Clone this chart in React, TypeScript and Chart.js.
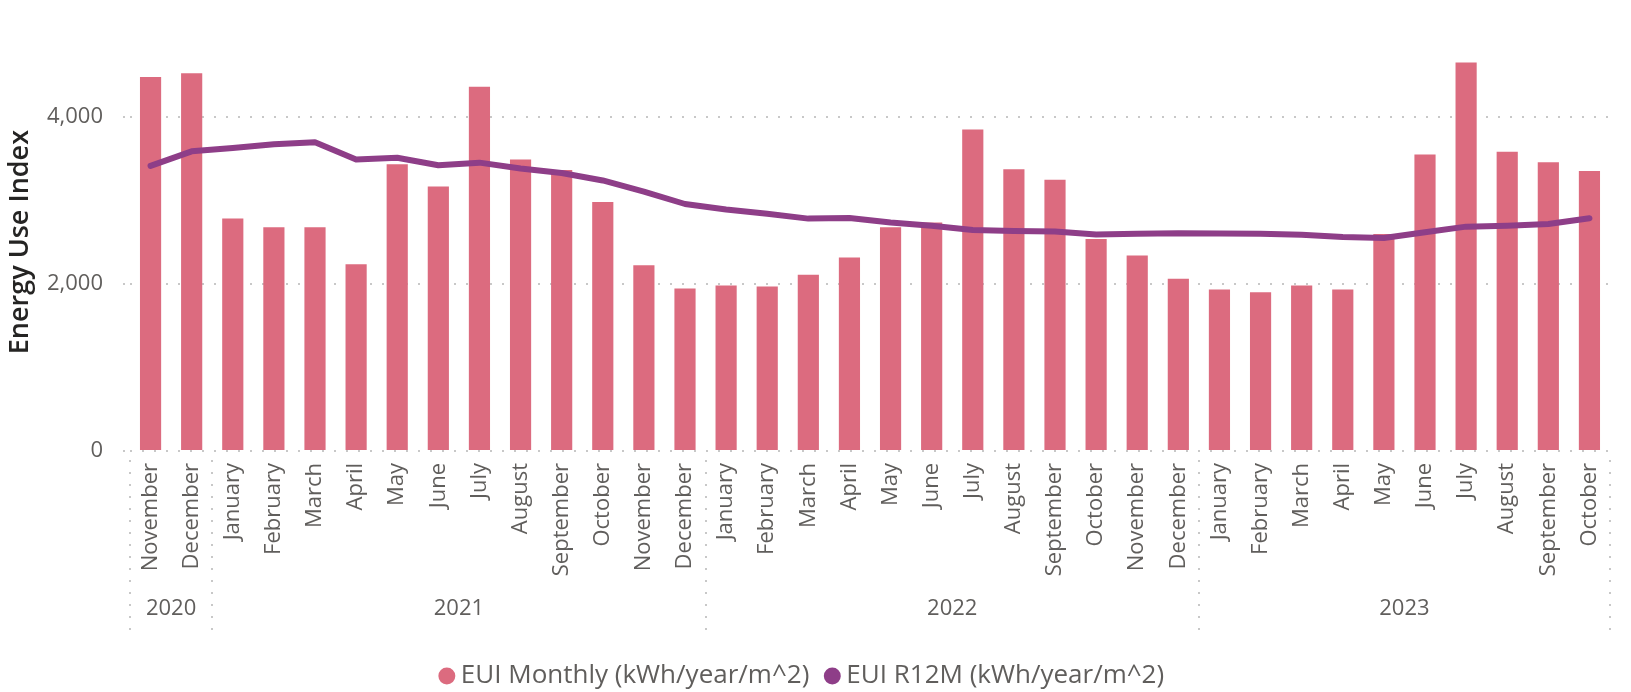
import React, { useEffect, useRef } from 'react';
import { Chart, registerables } from 'chart.js';

Chart.register(...registerables);

// ---- Data ----
const months = [
  'November', 'December',
  'January', 'February', 'March', 'April', 'May', 'June', 'July', 'August', 'September', 'October', 'November', 'December',
  'January', 'February', 'March', 'April', 'May', 'June', 'July', 'August', 'September', 'October', 'November', 'December',
  'January', 'February', 'March', 'April', 'May', 'June', 'July', 'August', 'September', 'October',
];
const years = [
  '2020', '2020',
  '2021', '2021', '2021', '2021', '2021', '2021', '2021', '2021', '2021', '2021', '2021', '2021',
  '2022', '2022', '2022', '2022', '2022', '2022', '2022', '2022', '2022', '2022', '2022', '2022',
  '2023', '2023', '2023', '2023', '2023', '2023', '2023', '2023', '2023', '2023',
];
const euiMonthly = [
  4476, 4522,
  2781, 2677, 2677, 2236, 3431, 3164, 4360, 3489, 3362, 2979, 2224, 1946,
  1981, 1969, 2108, 2317, 2677, 2735, 3849, 3373, 3246, 2538, 2340, 2062,
  1934, 1899, 1981, 1934, 2596, 3547, 4650, 3582, 3455, 3350,
];
const euiR12M = [
  3412, 3586,
  3625, 3671, 3694, 3489, 3509, 3420, 3451, 3381, 3327, 3238, 3105, 2956,
  2890, 2840, 2781, 2789, 2735, 2696, 2646, 2634, 2627, 2592, 2600, 2607,
  2603, 2600, 2588, 2561, 2549, 2619, 2685, 2696, 2716, 2785,
];
const yTickValues = [0, 2000, 4000];
const seriesNames = ['EUI Monthly (kWh/year/m^2)', 'EUI R12M (kWh/year/m^2)'];
const yAxisTitle = 'Energy Use Index';

const FONT = "'Open Sans', 'Segoe UI', sans-serif";
const TEXT_GRAY = '#605E5C';
const GRID = '#c8c8c8';
const BAR_COLOR = '#DC6B7F';
const LINE_COLOR = '#8E3E88';

const yearGroupsPlugin = {
  id: 'yearGroups',
  afterDraw(chart: any) {
    const xs = chart.scales.x;
    const area = chart.chartArea;
    const ctx = chart.ctx;
    const n = years.length;
    const step = (area.right - area.left) / n;
    const groups: { label: string; start: number; end: number }[] = [];
    let s = 0;
    for (let i = 1; i <= n; i++) {
      if (i === n || years[i] !== years[s]) {
        groups.push({ label: years[s], start: s, end: i - 1 });
        s = i;
      }
    }
    ctx.save();
    ctx.strokeStyle = GRID;
    ctx.lineWidth = 2;
    ctx.setLineDash([2, 10]);
    const top = area.bottom + 9;
    const bottom = area.bottom + 180;
    const edges: number[] = [];
    groups.forEach((g, gi) => {
      const l = xs.getPixelForValue(g.start) - step / 2;
      const r = xs.getPixelForValue(g.end) + step / 2;
      if (gi === 0) edges.push(l);
      edges.push(r);
    });
    edges.forEach((ex) => {
      const xx = Math.round(ex);
      ctx.beginPath();
      ctx.moveTo(xx, top);
      ctx.lineTo(xx, bottom);
      ctx.stroke();
    });
    ctx.setLineDash([]);
    ctx.fillStyle = TEXT_GRAY;
    ctx.font = `22px ${FONT}`;
    ctx.textAlign = 'center';
    ctx.textBaseline = 'middle';
    groups.forEach((g) => {
      const l = xs.getPixelForValue(g.start) - step / 2;
      const r = xs.getPixelForValue(g.end) + step / 2;
      ctx.fillText(g.label, (l + r) / 2, area.bottom + 158);
    });
    ctx.restore();
  },
};

export default function App() {
  const canvasRef = useRef<HTMLCanvasElement | null>(null);

  useEffect(() => {
    if (!canvasRef.current) return;
    Chart.defaults.font.family = FONT;
    const chart = new Chart(canvasRef.current, {
      type: 'bar',
      data: {
        labels: months,
        datasets: [
          {
            type: 'line',
            label: seriesNames[1],
            data: euiR12M,
            borderColor: LINE_COLOR,
            backgroundColor: LINE_COLOR,
            borderWidth: 6,
            pointRadius: 0,
            pointHoverRadius: 0,
            tension: 0,
            borderCapStyle: 'round',
            borderJoinStyle: 'round',
            order: 0,
          } as any,
          {
            type: 'bar',
            label: seriesNames[0],
            data: euiMonthly,
            backgroundColor: BAR_COLOR,
            borderWidth: 0,
            barPercentage: 0.515,
            categoryPercentage: 1,
            order: 1,
          } as any,
        ],
      },
      options: {
        responsive: false,
        animation: false,
        devicePixelRatio: 1,
        layout: { padding: { top: 20, right: 21, left: 0, bottom: 0 } },
        plugins: {
          tooltip: { enabled: false },
          legend: {
            position: 'bottom',
            reverse: true,
            labels: {
              usePointStyle: true,
              pointStyle: 'circle',
              boxWidth: 2,
              boxHeight: 12,
              padding: 22,
              color: TEXT_GRAY,
              font: { size: 26, family: FONT },
              generateLabels: (c: any) => {
                const items = Chart.defaults.plugins.legend.labels.generateLabels(c);
                return items.map((it: any) => ({ ...it, lineWidth: 0, strokeStyle: it.fillStyle }));
              },
            },
          },
        },
        scales: {
          x: {
            type: 'category',
            offset: true,
            grid: { display: false, drawTicks: false },
            border: { display: false },
            ticks: {
              autoSkip: false,
              minRotation: 90,
              maxRotation: 90,
              padding: 12,
              color: TEXT_GRAY,
              font: { size: 22, family: FONT },
            },
            afterFit: (sc: any) => {
              sc.height = 190;
            },
          },
          y: {
            min: 0,
            max: 5000,
            border: { display: false, dash: [2, 10] },
            grid: {
              color: GRID,
              lineWidth: 2,
              drawTicks: true,
              tickLength: 7,
              tickColor: GRID,
              tickBorderDash: [2, 10],
              tickWidth: 2,
            },
            ticks: {
              padding: 20,
              color: TEXT_GRAY,
              font: { size: 22, family: FONT },
              callback: (v: any) => Number(v).toLocaleString('en-US'),
            },
            afterBuildTicks: (sc: any) => {
              sc.ticks = yTickValues.map((v) => ({ value: v }));
            },
            afterFit: (sc: any) => {
              sc.width = 130;
            },
            title: {
              display: true,
              text: yAxisTitle,
              color: '#252423',
              font: { size: 27, weight: '600', family: FONT },
              padding: { top: 4, bottom: 0 },
            },
          },
        },
      },
      plugins: [yearGroupsPlugin],
    } as any);
    return () => chart.destroy();
  }, []);

  return (
    <div style={{ position: 'fixed', left: 0, top: 0, width: 1631, height: 699, background: '#ffffff' }}>
      <canvas ref={canvasRef} width={1631} height={699} style={{ width: 1631, height: 699, display: 'block' }} />
    </div>
  );
}
